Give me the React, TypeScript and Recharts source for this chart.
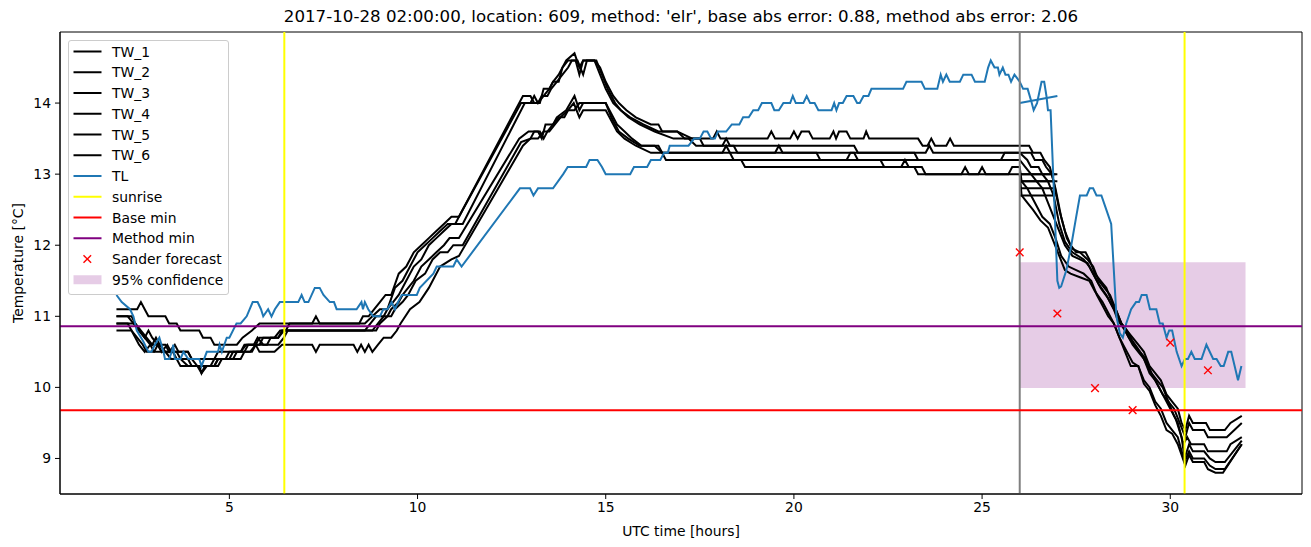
import React from 'react';
import { ComposedChart, Line, XAxis, YAxis, ReferenceLine, ReferenceArea, Scatter, Label } from 'recharts';

type P = [number, number];

const X_TICKS = [5, 10, 15, 20, 25, 30];
const Y_TICKS = [9, 10, 11, 12, 13, 14];

const TW_1: P[] = [[2.0,11.1],[2.55,11.1],[2.65,11.2],[2.75,11.1],[2.85,11.0],[3.3,11.0],[3.4,10.9],[3.6,10.9],[3.7,10.8],[4.2,10.8],[4.3,10.7],[4.5,10.7],[4.6,10.6],[5.2,10.6],[5.35,10.7],[5.6,10.8],[5.8,10.9],[7.2,10.9],[7.3,11.0],[7.4,10.9],[8.45,10.9],[8.55,11.0],[8.7,11.0],[8.85,11.1],[9.0,11.2],[9.15,11.3],[9.3,11.3],[9.5,11.6],[9.7,11.7],[9.9,11.9],[10.1,12.0],[10.3,12.1],[10.5,12.2],[10.7,12.3],[10.9,12.4],[11.1,12.4],[12.8,14.1],[13.0,14.1],[13.1,14.0],[13.25,14.0],[13.35,14.2],[13.5,14.2],[13.6,14.3],[13.75,14.4],[13.95,14.6],[14.17,14.7],[14.3,14.5],[14.4,14.6],[14.7,14.6],[14.85,14.5],[15.0,14.3],[15.2,14.1],[15.35,14.0],[15.55,13.9],[15.8,13.8],[16.2,13.7],[16.4,13.7],[16.5,13.6],[16.9,13.6],[17.3,13.5],[17.85,13.5],[17.95,13.6],[18.05,13.5],[19.3,13.5],[19.4,13.6],[19.5,13.5],[19.9,13.5],[20.0,13.6],[20.1,13.5],[20.2,13.6],[20.4,13.6],[20.5,13.5],[20.95,13.5],[21.05,13.6],[21.12,13.5],[21.2,13.6],[21.4,13.6],[21.5,13.5],[21.85,13.5],[21.92,13.6],[22.0,13.5],[23.3,13.5],[23.42,13.4],[23.55,13.4],[23.65,13.5],[23.75,13.4],[24.05,13.4],[24.15,13.5],[24.25,13.4],[26.0,13.4],[26.25,13.4],[26.35,13.3],[26.55,13.3],[26.65,13.2],[26.8,13.1],[26.9,12.9],[27.05,12.5],[27.2,12.2],[27.35,12.0],[27.5,11.9],[27.75,11.9],[27.85,11.8],[28.0,11.6],[28.15,11.5],[28.3,11.4],[28.45,11.2],[28.55,11.1],[28.7,10.9],[28.85,10.8],[29.0,10.7],[29.15,10.6],[29.3,10.5],[29.45,10.3],[29.6,10.2],[29.75,10.1],[29.9,9.9],[30.05,9.8],[30.2,9.7],[30.3,9.5],[30.4,9.4],[30.5,9.6],[30.6,9.5],[30.95,9.5],[31.05,9.4],[31.45,9.4],[31.6,9.5],[31.9,9.6]];

const TW_2: P[] = [[2.0,11.0],[2.3,11.0],[2.45,10.9],[2.6,10.8],[2.75,10.7],[2.85,10.8],[2.95,10.7],[3.1,10.6],[3.3,10.6],[3.4,10.5],[3.55,10.6],[3.65,10.5],[3.9,10.5],[4.0,10.4],[4.6,10.4],[4.7,10.5],[5.3,10.5],[5.45,10.6],[5.7,10.6],[5.8,10.7],[6.2,10.7],[6.35,10.8],[6.5,10.8],[6.6,10.9],[8.6,10.9],[8.8,11.0],[9.0,11.1],[9.2,11.1],[9.4,11.4],[9.6,11.5],[9.8,11.7],[10.0,11.9],[10.2,12.0],[10.4,12.1],[10.6,12.2],[10.8,12.3],[11.0,12.3],[11.1,12.4],[12.75,14.0],[13.0,14.0],[13.1,14.1],[13.2,14.0],[13.35,14.1],[13.5,14.2],[13.6,14.3],[13.75,14.3],[13.85,14.5],[14.0,14.6],[14.2,14.6],[14.3,14.4],[14.4,14.6],[14.75,14.6],[14.9,14.4],[15.05,14.2],[15.25,14.0],[15.4,13.9],[15.65,13.8],[16.0,13.7],[16.4,13.6],[16.9,13.6],[17.1,13.5],[17.5,13.5],[17.6,13.4],[18.1,13.4],[18.2,13.5],[18.3,13.4],[21.6,13.4],[21.7,13.3],[23.5,13.3],[23.6,13.4],[23.7,13.3],[26.0,13.3],[26.3,13.3],[26.4,13.2],[26.6,13.2],[26.7,13.1],[26.85,13.0],[26.95,12.8],[27.1,12.4],[27.25,12.1],[27.4,11.95],[27.6,11.9],[27.8,11.8],[27.95,11.7],[28.1,11.5],[28.25,11.4],[28.4,11.3],[28.55,11.1],[28.7,10.9],[28.85,10.8],[29.0,10.65],[29.2,10.5],[29.35,10.4],[29.5,10.2],[29.65,10.1],[29.8,10.0],[29.95,9.8],[30.1,9.7],[30.25,9.5],[30.4,9.3],[30.5,9.5],[30.6,9.4],[30.9,9.4],[31.0,9.3],[31.5,9.3],[31.9,9.5]];

const TW_3: P[] = [[2.0,11.0],[2.4,11.0],[2.5,10.9],[2.65,10.8],[2.8,10.7],[2.95,10.6],[3.05,10.7],[3.15,10.6],[3.3,10.5],[3.5,10.5],[3.6,10.4],[3.9,10.4],[4.0,10.3],[4.2,10.3],[4.26,10.2],[4.35,10.3],[4.6,10.3],[4.7,10.4],[5.1,10.4],[5.2,10.5],[5.6,10.5],[5.7,10.6],[6.0,10.6],[6.1,10.7],[6.3,10.7],[6.45,10.8],[8.6,10.8],[8.75,10.9],[8.9,11.0],[9.1,11.0],[9.2,11.1],[9.35,11.2],[9.5,11.3],[9.7,11.5],[9.9,11.7],[10.1,11.8],[10.3,12.0],[10.5,12.1],[10.7,12.2],[10.9,12.3],[11.2,12.3],[12.85,14.0],[13.2,14.0],[13.3,14.1],[13.45,14.1],[13.55,14.2],[13.7,14.3],[13.85,14.4],[14.0,14.5],[14.1,14.6],[14.25,14.6],[14.4,14.4],[14.5,14.6],[14.7,14.6],[14.85,14.4],[15.0,14.2],[15.2,14.0],[15.4,13.9],[15.6,13.8],[15.9,13.7],[16.3,13.6],[16.8,13.5],[17.2,13.5],[17.4,13.4],[18.4,13.4],[18.5,13.3],[20.6,13.3],[20.7,13.2],[21.4,13.2],[21.5,13.3],[23.2,13.3],[23.3,13.2],[25.5,13.2],[25.6,13.3],[26.0,13.3],[26.2,13.2],[26.3,13.1],[26.5,13.1],[26.6,13.0],[26.75,12.9],[26.9,12.7],[27.05,12.3],[27.2,12.05],[27.4,11.9],[27.7,11.8],[27.85,11.7],[28.0,11.55],[28.15,11.4],[28.35,11.25],[28.5,11.1],[28.6,10.95],[28.8,10.8],[29.0,10.6],[29.15,10.5],[29.3,10.4],[29.45,10.2],[29.6,10.1],[29.8,9.9],[29.95,9.8],[30.1,9.6],[30.2,9.5],[30.35,9.2],[30.45,9.3],[30.55,9.2],[30.9,9.2],[31.0,9.1],[31.5,9.1],[31.6,9.2],[31.9,9.3]];

const TW_4: P[] = [[2.0,10.9],[2.5,10.9],[2.6,10.8],[2.75,10.7],[2.9,10.6],[3.1,10.6],[3.2,10.5],[3.35,10.6],[3.45,10.5],[3.9,10.5],[4.0,10.4],[4.15,10.3],[4.5,10.3],[4.6,10.4],[5.0,10.4],[5.1,10.5],[5.4,10.5],[5.5,10.6],[5.65,10.6],[5.75,10.7],[5.9,10.6],[6.3,10.6],[6.45,10.7],[6.55,10.8],[8.9,10.8],[9.0,10.9],[9.2,11.0],[9.3,11.1],[9.5,11.2],[9.6,11.3],[9.75,11.4],[9.9,11.5],[10.1,11.7],[10.3,11.8],[10.5,11.9],[10.7,12.0],[10.85,12.1],[11.1,12.1],[12.7,13.5],[12.95,13.6],[13.2,13.6],[13.3,13.5],[13.4,13.7],[13.6,13.7],[13.7,13.8],[13.95,13.9],[14.17,14.1],[14.3,13.9],[14.4,14.0],[15.0,14.0],[15.1,13.9],[15.3,13.7],[15.5,13.6],[15.7,13.5],[15.95,13.4],[16.4,13.4],[16.5,13.3],[18.1,13.3],[18.2,13.4],[18.3,13.3],[19.5,13.3],[19.6,13.4],[19.7,13.3],[21.6,13.3],[21.7,13.2],[26.0,13.2],[26.15,13.1],[26.3,13.0],[26.45,12.9],[26.6,12.8],[26.75,12.6],[26.9,12.4],[27.05,12.2],[27.2,12.0],[27.4,11.85],[27.6,11.8],[27.8,11.75],[27.95,11.6],[28.1,11.45],[28.3,11.3],[28.45,11.15],[28.6,11.0],[28.75,10.85],[28.9,10.7],[29.1,10.55],[29.25,10.45],[29.4,10.3],[29.55,10.15],[29.7,10.0],[29.85,9.85],[30.0,9.7],[30.15,9.55],[30.3,9.3],[30.38,9.0],[30.5,9.2],[30.6,9.1],[30.9,9.1],[31.05,9.0],[31.2,8.95],[31.45,8.95],[31.9,9.25]];

const TW_5: P[] = [[2.0,10.9],[2.3,10.9],[2.4,10.8],[2.55,10.7],[2.7,10.6],[2.8,10.5],[3.0,10.5],[3.1,10.6],[3.2,10.5],[3.6,10.5],[3.7,10.4],[3.9,10.3],[4.15,10.3],[4.26,10.2],[4.4,10.3],[4.7,10.3],[4.8,10.4],[5.3,10.4],[5.4,10.5],[5.55,10.5],[5.7,10.6],[5.8,10.5],[6.2,10.5],[6.4,10.6],[7.2,10.6],[7.3,10.5],[7.4,10.6],[8.3,10.6],[8.4,10.5],[8.5,10.6],[8.6,10.5],[8.7,10.6],[8.8,10.5],[8.95,10.6],[9.1,10.7],[9.3,10.7],[9.45,10.8],[9.55,10.9],[9.8,11.1],[10.05,11.2],[10.3,11.4],[10.6,11.7],[10.9,11.8],[11.1,11.85],[12.8,13.4],[13.0,13.5],[13.2,13.5],[13.35,13.6],[13.5,13.6],[13.65,13.7],[13.8,13.8],[14.0,13.9],[14.15,14.0],[14.3,13.8],[14.4,13.9],[15.0,13.9],[15.1,13.8],[15.3,13.6],[15.5,13.5],[15.8,13.4],[16.2,13.3],[18.3,13.3],[18.4,13.2],[22.3,13.2],[22.4,13.1],[22.85,13.1],[22.95,13.2],[23.05,13.1],[23.4,13.1],[23.5,13.0],[25.7,13.0],[25.8,13.1],[26.0,13.1],[26.05,12.9],[26.2,12.8],[26.4,12.6],[26.6,12.4],[26.8,12.3],[26.95,12.1],[27.1,11.85],[27.3,11.7],[27.5,11.65],[27.7,11.6],[27.9,11.5],[28.05,11.3],[28.2,11.15],[28.35,11.0],[28.5,10.9],[28.65,10.7],[28.85,10.5],[29.0,10.35],[29.15,10.3],[29.3,10.1],[29.45,10.0],[29.6,9.8],[29.75,9.7],[29.9,9.5],[30.05,9.4],[30.2,9.3],[30.38,8.95],[30.5,9.1],[30.6,9.0],[30.9,9.0],[31.05,8.9],[31.2,8.85],[31.45,8.85],[31.9,9.2]];

const TW_6: P[] = [[2.0,10.8],[2.4,10.8],[2.5,10.7],[2.6,10.6],[2.75,10.5],[2.9,10.6],[3.0,10.5],[3.3,10.5],[3.45,10.4],[3.6,10.4],[3.7,10.3],[4.6,10.3],[4.7,10.4],[4.9,10.4],[5.0,10.5],[5.3,10.5],[5.4,10.6],[5.8,10.6],[5.9,10.7],[6.3,10.7],[6.4,10.8],[8.8,10.8],[8.95,10.9],[9.1,11.0],[9.3,11.0],[9.4,11.1],[9.6,11.2],[9.75,11.3],[9.95,11.5],[10.2,11.6],[10.4,11.8],[10.6,11.9],[10.8,11.9],[10.95,12.0],[11.2,12.0],[12.75,13.45],[13.0,13.5],[13.1,13.6],[13.25,13.6],[13.35,13.5],[13.45,13.6],[13.6,13.7],[13.75,13.8],[13.9,13.8],[14.0,13.9],[14.17,13.9],[14.3,14.0],[15.0,14.0],[15.15,13.8],[15.35,13.6],[15.6,13.5],[15.9,13.4],[16.3,13.4],[16.5,13.3],[16.6,13.2],[18.6,13.2],[18.7,13.1],[23.2,13.1],[23.3,13.0],[24.45,13.0],[24.55,13.1],[24.65,13.0],[24.9,13.0],[25.0,13.1],[25.1,13.0],[26.0,13.0],[26.05,12.7],[26.2,12.6],[26.35,12.5],[26.55,12.35],[26.75,12.25],[26.9,12.05],[27.05,11.85],[27.2,11.65],[27.35,11.6],[27.6,11.55],[27.85,11.5],[28.0,11.35],[28.2,11.2],[28.35,11.05],[28.5,10.9],[28.65,10.7],[28.8,10.5],[28.95,10.3],[29.15,10.3],[29.3,10.05],[29.45,9.95],[29.6,9.75],[29.75,9.6],[29.9,9.4],[30.05,9.35],[30.2,9.2],[30.4,8.9],[30.5,9.05],[30.6,8.95],[30.9,8.95],[31.0,8.85],[31.2,8.8],[31.4,8.8],[31.9,9.2]];

const TL: P[] = [[2.0,11.3],[2.14,11.2],[2.36,11.1],[2.45,11.0],[2.54,10.8],[2.71,10.65],[2.85,10.5],[2.93,10.5],[3.02,10.6],[3.14,10.7],[3.25,10.5],[3.29,10.4],[3.4,10.4],[3.47,10.5],[3.51,10.6],[3.55,10.4],[3.7,10.4],[3.78,10.5],[3.91,10.4],[4.2,10.4],[4.26,10.3],[4.4,10.5],[4.7,10.5],[4.74,10.6],[4.8,10.5],[4.93,10.7],[5.0,10.7],[5.19,10.9],[5.3,10.9],[5.46,11.0],[5.62,11.2],[5.75,11.2],[5.84,11.1],[5.9,11.0],[6.03,11.1],[6.12,11.0],[6.21,11.1],[6.34,11.2],[6.83,11.2],[6.92,11.3],[7.0,11.2],[7.1,11.2],[7.27,11.4],[7.4,11.4],[7.5,11.3],[7.67,11.2],[7.78,11.2],[7.85,11.1],[8.38,11.1],[8.51,11.2],[8.55,11.1],[8.6,11.2],[8.69,11.1],[8.82,11.0],[9.0,11.0],[9.09,11.1],[9.2,11.1],[9.31,11.2],[9.4,11.1],[9.48,11.2],[9.58,11.3],[9.98,11.3],[10.06,11.4],[10.42,11.6],[10.51,11.7],[10.95,11.7],[11.04,11.8],[11.17,11.7],[12.72,12.8],[12.99,12.8],[13.08,12.7],[13.2,12.8],[13.6,12.8],[13.87,13.0],[13.99,13.1],[14.48,13.1],[14.57,13.2],[14.78,13.2],[14.9,13.1],[15.0,13.0],[15.65,13.0],[15.75,13.1],[16.1,13.1],[16.2,13.2],[16.45,13.2],[16.55,13.3],[16.65,13.3],[16.7,13.4],[17.2,13.4],[17.35,13.5],[17.5,13.5],[17.6,13.6],[17.7,13.6],[17.8,13.5],[17.9,13.5],[17.98,13.6],[18.2,13.6],[18.35,13.7],[18.55,13.7],[18.65,13.8],[18.8,13.8],[18.92,13.9],[19.05,13.9],[19.15,14.0],[19.4,14.0],[19.48,13.9],[19.6,13.9],[19.72,14.0],[19.9,14.0],[19.97,14.1],[20.05,14.0],[20.25,14.0],[20.34,14.1],[20.43,14.0],[20.55,14.0],[20.65,13.9],[21.0,13.9],[21.07,14.0],[21.13,13.9],[21.2,14.0],[21.3,14.0],[21.4,14.1],[21.58,14.1],[21.68,14.0],[21.75,14.0],[21.85,14.1],[21.98,14.1],[22.06,14.2],[22.9,14.2],[22.99,14.3],[23.39,14.3],[23.48,14.2],[23.81,14.2],[23.9,14.4],[23.96,14.3],[24.05,14.4],[24.14,14.3],[24.41,14.3],[24.5,14.4],[24.72,14.4],[24.81,14.3],[25.07,14.3],[25.16,14.5],[25.23,14.6],[25.33,14.5],[25.42,14.5],[25.46,14.4],[25.55,14.5],[25.62,14.4],[25.7,14.4],[25.77,14.3],[25.86,14.4],[25.93,14.35],[26.0,14.3],[26.09,14.2],[26.21,14.2],[26.32,14.0],[26.37,13.9],[26.46,14.0],[26.58,14.3],[26.65,14.3],[26.71,14.1],[26.75,13.9],[26.82,13.9],[26.92,12.6],[27.0,11.5],[27.05,11.4],[27.1,11.42],[27.24,11.65],[27.37,12.0],[27.5,12.4],[27.6,12.7],[27.78,12.7],[27.86,12.8],[27.95,12.8],[28.04,12.7],[28.17,12.7],[28.3,12.5],[28.43,12.3],[28.57,11.0],[28.66,10.76],[28.74,10.7],[28.83,10.9],[28.96,11.1],[29.09,11.2],[29.17,11.2],[29.24,11.3],[29.37,11.3],[29.46,11.1],[29.63,11.1],[29.72,10.9],[29.8,10.9],[29.9,10.7],[29.97,10.8],[30.05,10.8],[30.17,10.5],[30.3,10.3],[30.39,10.4],[30.47,10.4],[30.56,10.5],[30.65,10.4],[30.83,10.4],[30.96,10.6],[31.14,10.4],[31.23,10.4],[31.34,10.3],[31.42,10.3],[31.54,10.5],[31.62,10.5],[31.8,10.1],[31.89,10.3]];

// short hourly segments drawn from the gray marker to the next hour
const TW_STUBS: P[][] = [
  [[26.0,13.0],[27.0,13.0]],
  [[26.0,12.9],[27.0,12.9]],
  [[26.0,12.9],[26.9,12.9]],
  [[26.0,12.8],[26.9,12.8]],
  [[26.0,12.7],[26.95,12.7]],
  [[26.0,13.0],[26.95,13.0]],
];
const TL_STUB: P[] = [[26.0,14.0],[27.0,14.1]];

const SANDER_X = [26, 27, 28, 29, 30, 31];
const SANDER_Y = [11.9, 11.04, 9.99, 9.68, 10.63, 10.24];

const SUNRISE = [6.46, 30.38];
const NOW_X = 26;
const BASE_MIN = 9.68;
const METHOD_MIN = 10.86;
const CONF_X = [26, 32];
const CONF_Y = [9.99, 11.76];

const TITLE = "2017-10-28 02:00:00, location: 609, method: 'elr', base abs error: 0.88, method abs error: 2.06";

const rows = (pts: P[]) => pts.map(([x, y]) => ({ x, y }));
const sander = SANDER_X.map((x, i) => ({ x, y: SANDER_Y[i] }));

const FONT = 'DejaVu Sans';
const FS = 13.9;
const BLUE = '#1f77b4';

const XMark = (props: any) => {
  const { cx, cy } = props;
  if (cx == null || cy == null) return null;
  const r = 3.8;
  return (
    <g>
      <line x1={cx - r} y1={cy - r} x2={cx + r} y2={cy + r} stroke="#ff0000" strokeWidth={1.4} />
      <line x1={cx - r} y1={cy + r} x2={cx + r} y2={cy - r} stroke="#ff0000" strokeWidth={1.4} />
    </g>
  );
};

const LEGEND_ITEMS: { label: string; kind: string; color: string }[] = [
  { label: 'TW_1', kind: 'line', color: '#000' },
  { label: 'TW_2', kind: 'line', color: '#000' },
  { label: 'TW_3', kind: 'line', color: '#000' },
  { label: 'TW_4', kind: 'line', color: '#000' },
  { label: 'TW_5', kind: 'line', color: '#000' },
  { label: 'TW_6', kind: 'line', color: '#000' },
  { label: 'TL', kind: 'line', color: BLUE },
  { label: 'sunrise', kind: 'line', color: '#ffff00' },
  { label: 'Base min', kind: 'line', color: '#ff0000' },
  { label: 'Method min', kind: 'line', color: '#800080' },
  { label: 'Sander forecast', kind: 'x', color: '#ff0000' },
  { label: '95% confidence', kind: 'patch', color: '#800080' },
];

const LegendBox = () => (
  <div style={{ position: 'absolute', left: 68, top: 40, width: 161, height: 255, boxSizing: 'border-box', border: '1px solid #cccccc', borderRadius: 3, background: 'rgba(255,255,255,0.8)' }}>
    <svg width={161} height={255} style={{ position: 'absolute', left: -1, top: -1 }}>
      {LEGEND_ITEMS.map((it, i) => {
        const y = 11.5 + i * 20.75;
        return (
          <g key={it.label}>
            {it.kind === 'line' && <line x1={5.5} x2={33.5} y1={y} y2={y} stroke={it.color} strokeWidth={2} />}
            {it.kind === 'x' && (
              <g>
                <line x1={15.5} y1={y - 3.8} x2={23.1} y2={y + 3.8} stroke={it.color} strokeWidth={1.4} />
                <line x1={15.5} y1={y + 3.8} x2={23.1} y2={y - 3.8} stroke={it.color} strokeWidth={1.4} />
              </g>
            )}
            {it.kind === 'patch' && <rect x={5.5} y={y - 4.5} width={28} height={9} fill={it.color} fillOpacity={0.2} />}
            <text x={44} y={y} dominantBaseline="central" fontFamily={FONT} fontSize={FS} fill="#000">{it.label}</text>
          </g>
        );
      })}
    </svg>
  </div>
);

export default function App() {
  const tick = { fill: '#000', fontSize: FS, fontFamily: FONT };
  return (
    <div style={{ position: 'absolute', left: 0, top: 0, width: 1311, height: 547, background: '#fff', fontFamily: FONT }}>
      <div style={{ position: 'absolute', left: 60, top: 7, width: 1242, textAlign: 'center', fontSize: 16.67, fontFamily: FONT, color: '#000', whiteSpace: 'nowrap' }}>{TITLE}</div>
      <ComposedChart width={1311} height={547} margin={{ top: 32, right: 9, bottom: 0, left: 0 }}>
        <XAxis type="number" dataKey="x" domain={[0.5, 33.5]} ticks={X_TICKS} allowDataOverflow height={53} tickSize={5} tickMargin={3} tick={tick} tickLine={{ stroke: '#000' }} axisLine={{ stroke: '#000' }}>
          <Label value="UTC time [hours]" position="insideBottom" offset={11} style={{ fill: '#000', fontSize: FS, fontFamily: FONT }} />
        </XAxis>
        <YAxis type="number" dataKey="y" domain={[8.5, 15]} ticks={Y_TICKS} allowDataOverflow width={60} tickSize={5} tickMargin={4} tick={tick} tickLine={{ stroke: '#000' }} axisLine={{ stroke: '#000' }}>
          <Label content={(p: any) => {
            const vb = p.viewBox || { x: 0, y: 32, width: 60, height: 462 };
            const cx = 18; const cy = vb.y + vb.height / 2;
            return <text x={cx} y={cy} transform={`rotate(-90 ${cx} ${cy})`} textAnchor="middle" dominantBaseline="central" fontFamily={FONT} fontSize={FS} fill="#000">Temperature [°C]</text>;
          }} />
        </YAxis>
        <ReferenceArea x1={CONF_X[0]} x2={CONF_X[1]} y1={CONF_Y[0]} y2={CONF_Y[1]} fill="#800080" fillOpacity={0.2} stroke="none" />
        {[TW_1, TW_2, TW_3, TW_4, TW_5, TW_6].map((s, i) => (
          <Line key={'tw' + i} data={rows(s)} dataKey="y" type="linear" stroke="#000" strokeWidth={2} dot={false} isAnimationActive={false} />
        ))}
        {TW_STUBS.map((s, i) => (
          <Line key={'st' + i} data={rows(s)} dataKey="y" type="linear" stroke="#000" strokeWidth={2} dot={false} isAnimationActive={false} />
        ))}
        <Line data={rows(TL)} dataKey="y" type="linear" stroke={BLUE} strokeWidth={2} dot={false} isAnimationActive={false} />
        <Line data={rows(TL_STUB)} dataKey="y" type="linear" stroke={BLUE} strokeWidth={2} dot={false} isAnimationActive={false} />
        {SUNRISE.map((x) => <ReferenceLine key={'sr' + x} x={x} stroke="#ffff00" strokeWidth={2} />)}
        <ReferenceLine x={NOW_X} stroke="#808080" strokeWidth={2} />
        <ReferenceLine y={BASE_MIN} stroke="#ff0000" strokeWidth={2} />
        <ReferenceLine y={METHOD_MIN} stroke="#800080" strokeWidth={2} />
        <Scatter data={sander} dataKey="y" shape={XMark} isAnimationActive={false} />
        <ReferenceArea x1={0.5} x2={33.5} y1={8.5} y2={15} fill="none" stroke="#000" strokeWidth={1} />
      </ComposedChart>
      <LegendBox />
    </div>
  );
}
